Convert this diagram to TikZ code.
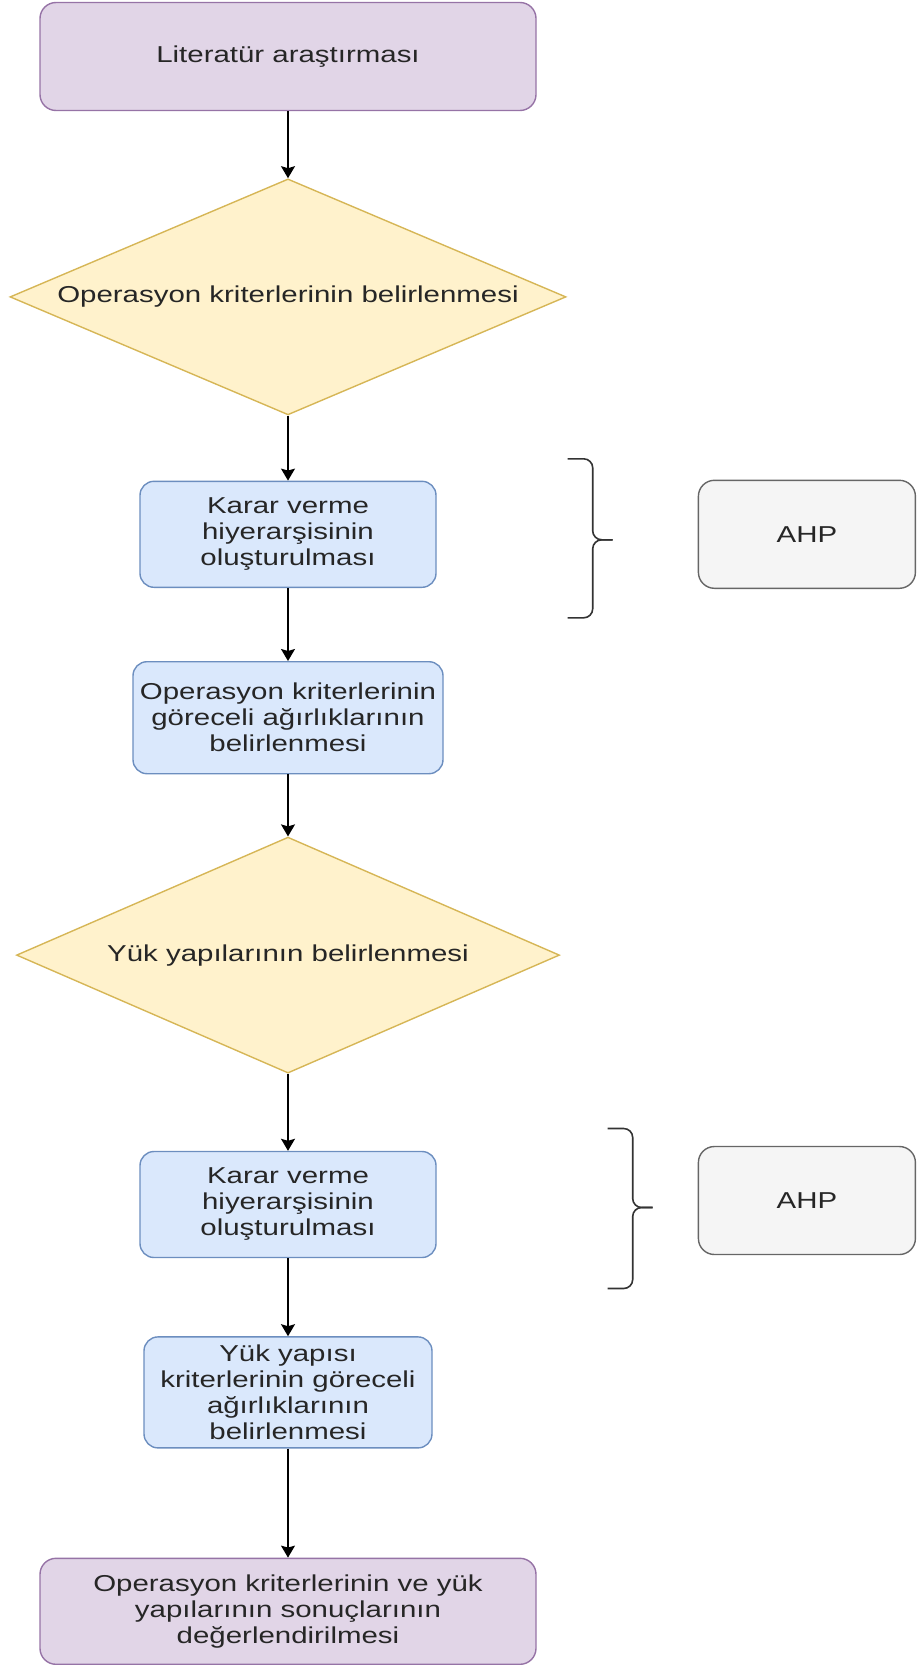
\documentclass[tikz,border=0pt]{standalone}
\usepackage{fontspec}
\setmainfont[FakeStretch=1.28]{Liberation Sans}
\usepackage{tikz}
\usetikzlibrary{arrows.meta,positioning,shapes.geometric,calc}
\definecolor{purpfill}{HTML}{E1D5E7}
\definecolor{purpline}{HTML}{9673A6}
\definecolor{yelfill}{HTML}{FFF2CC}
\definecolor{yelline}{HTML}{D6B656}
\definecolor{bluefill}{HTML}{DAE8FC}
\definecolor{blueline}{HTML}{6C8EBF}
\definecolor{greyfill}{HTML}{F5F5F5}
\definecolor{greyline}{HTML}{666666}

\begin{document}
\begin{tikzpicture}[
font=\fontsize{11.5}{13}\selectfont, text=black!85,
endbox/.style={draw=purpline, fill=purpfill, rounded corners=8pt, align=center, minimum width=248pt, minimum height=54pt, line width=0.7pt},
decide/.style={diamond, draw=yelline, fill=yelfill, aspect=2.36, inner sep=0pt, minimum width=278pt, minimum height=118pt, line width=0.7pt},
task/.style={draw=blueline, fill=bluefill, rounded corners=7pt, align=center, inner sep=2pt, minimum width=148pt, minimum height=53pt, line width=0.7pt},
method/.style={draw=greyline, fill=greyfill, rounded corners=8pt, align=center, minimum width=108.5pt, minimum height=54pt, line width=0.7pt},
brc/.style={rounded corners=4.5pt, line width=0.8pt, black!80},
arrow/.style={-{Stealth[length=6pt, width=7pt, inset=1pt]}, line width=0.75pt}
]
\useasboundingbox (0,0) rectangle (458pt,-832.5pt);

\node[endbox] (lit) at (144pt,-28.25pt) {Literatür araştırması};
\node[decide, below=33.5pt of lit] (opcrit) {Operasyon kriterlerinin belirlenmesi};
\node[task, below=32.5pt of opcrit] (kh1) {Karar verme\\hiyerarşisinin\\oluşturulması};
\node[task, below=36.5pt of kh1, minimum width=155pt, minimum height=56pt] (opw) {Operasyon kriterlerinin\\göreceli ağırlıklarının\\belirlenmesi};
\node[decide, below=31pt of opw, minimum width=271.5pt] (yukcrit) {Yük yapılarının belirlenmesi};
\node[task, below=38.5pt of yukcrit] (kh2) {Karar verme\\hiyerarşisinin\\oluşturulması};
\node[task, below=39pt of kh2, minimum width=144pt, minimum height=55.5pt] (yukw) {Yük yapısı\\kriterlerinin göreceli\\ağırlıklarının\\belirlenmesi};
\node[endbox, below=54.5pt of yukw, minimum height=53pt] (eval) {Operasyon kriterlerinin ve yük\\yapılarının sonuçlarının\\değerlendirilmesi};

\node[method, right=130.5pt of kh1] (ahp1) {AHP};
\node[method, right=130.5pt of kh2, yshift=2pt] (ahp2) {AHP};

\coordinate (br1) at ($(kh1.east)+(78pt,-2.75pt)$);
\coordinate (br2) at ($(kh2.east)+(98pt,-1.5pt)$);
\draw[brc] (br1) ++(-12.5pt,40.5pt) -- ++(12.5pt,0) -- ++(0,-40.5pt) -- ++(10pt,0);
\draw[brc] (br1) ++(-12.5pt,-39pt) -- ++(12.5pt,0) -- ++(0,39pt) -- ++(10pt,0);
\draw[brc] (br2) ++(-12.5pt,39.5pt) -- ++(12.5pt,0) -- ++(0,-39.5pt) -- ++(10pt,0);
\draw[brc] (br2) ++(-12.5pt,-40.5pt) -- ++(12.5pt,0) -- ++(0,40.5pt) -- ++(10pt,0);

\draw[arrow] (lit) -- (opcrit);
\draw[arrow] (opcrit) -- (kh1);
\draw[arrow] (kh1) -- (opw);
\draw[arrow] (opw) -- (yukcrit);
\draw[arrow] (yukcrit) -- (kh2);
\draw[arrow] (kh2) -- (yukw);
\draw[arrow] (yukw) -- (eval);
\end{tikzpicture}
\end{document}
